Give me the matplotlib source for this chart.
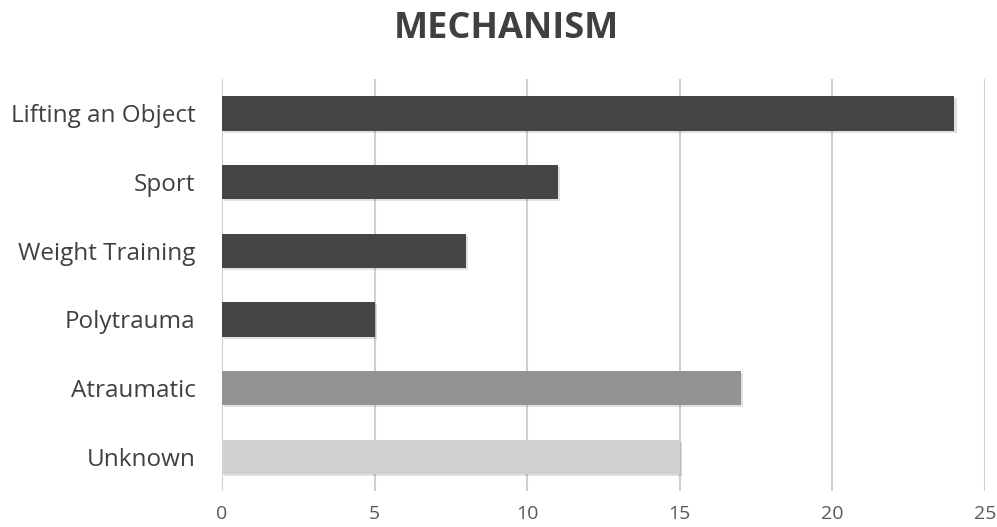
import matplotlib
matplotlib.use("Agg")
import matplotlib.pyplot as plt
import matplotlib.patheffects as pe

categories = ["Lifting an Object", "Sport", "Weight Training", "Polytrauma", "Atraumatic", "Unknown"]
values = [24, 11, 8, 5, 17, 15]
colors = ["#454545", "#454545", "#454545", "#454545", "#929292", "#d0d0d0"]
xticks = [0, 5, 10, 15, 20, 25]

plt.rcParams['font.family'] = ['Open Sans', 'DejaVu Sans']

fig = plt.figure(figsize=(9.97, 5.27), dpi=100)
ax = fig.add_axes([222/997, 1-491/527, (985-222)/997, (491-79)/527])

ypos = list(range(len(categories)))
bars = ax.barh(ypos, values, height=0.5, color=colors, zorder=3)
for b in bars:
    b.set_path_effects([pe.SimplePatchShadow(offset=(1.5, -1.5), shadow_rgbFace="#000000", alpha=0.12), pe.Normal()])

ax.set_ylim(len(categories)-0.5, -0.5)
ax.set_xlim(0, 25)
ax.set_xticks(xticks)
ax.set_xticklabels([str(t) for t in xticks], fontsize=14, color="#595959")
ax.set_yticks(ypos)
ax.set_yticklabels(categories, fontsize=17.5, color="#404040")
ax.tick_params(axis='both', length=0)
ax.tick_params(axis='x', pad=10)
ax.tick_params(axis='y', pad=19)
ax.xaxis.grid(True, color="#d0d0d0", linewidth=1.5, zorder=0)
for s in ax.spines.values():
    s.set_visible(False)

fig.text(0.508, 0.945, "MECHANISM", ha="center", va="center", fontsize=26, fontweight="bold", color="#404040")

fig.savefig("out.png", dpi=100, facecolor="white")
